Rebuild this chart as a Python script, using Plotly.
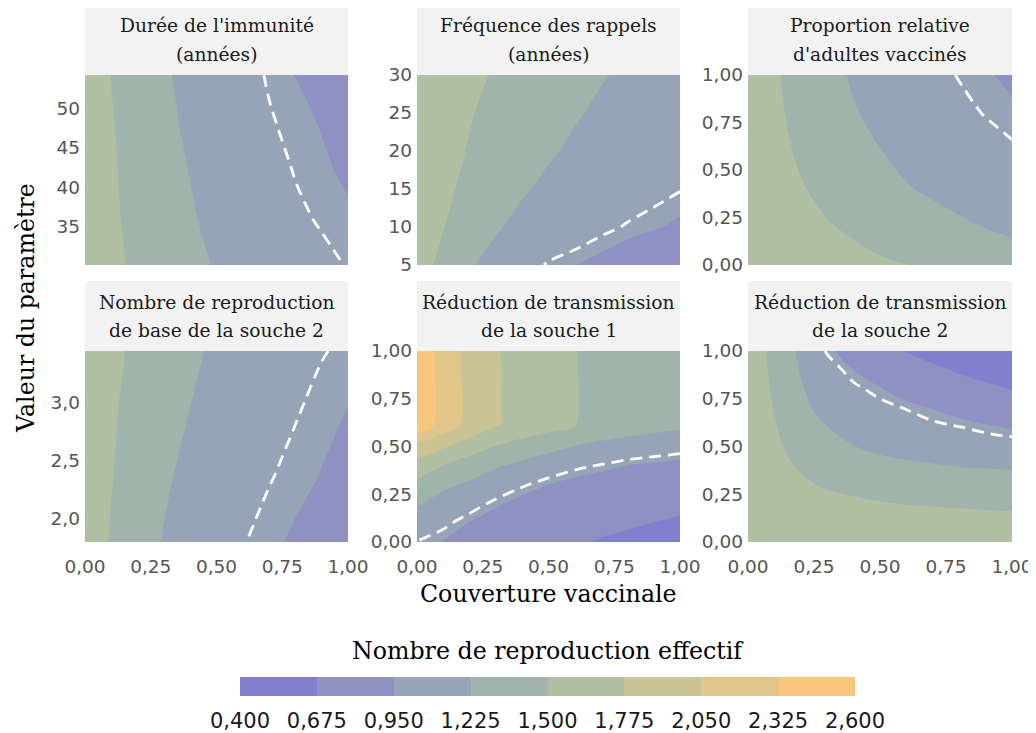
import plotly.graph_objects as go

W, H = 1036, 733

# ---------------- data ----------------
LEVELS = [0.400, 0.675, 0.950, 1.225, 1.500, 1.775, 2.050, 2.325, 2.600]
BAND_COLORS = ["#8080CF", "#8F91C3", "#97A3B7", "#A0B4AC",
               "#B1BFA2", "#C9C396", "#E2C689", "#F9C77B"]
THRESHOLD = 1.0

coverage = [0.0, 0.1, 0.2, 0.3, 0.4, 0.5, 0.6, 0.7, 0.8, 0.9, 1.0]
coverage_fine = [0.0, 0.05, 0.1, 0.15, 0.2, 0.25, 0.3, 0.4, 0.5, 0.6, 0.7, 0.8, 0.9, 1.0]

# Panel 1: Durée de l'immunité (années)
p1_y = [30.2, 36, 42, 48, 54.2]
p1_z = [
    [1.68, 1.56, 1.45, 1.36, 1.28, 1.21, 1.15, 1.10, 1.06, 1.025, 0.995],
    [1.68, 1.54, 1.43, 1.33, 1.245, 1.175, 1.115, 1.065, 1.02, 0.99, 0.965],
    [1.68, 1.53, 1.41, 1.30, 1.22, 1.15, 1.09, 1.04, 0.995, 0.965, 0.935],
    [1.68, 1.515, 1.39, 1.275, 1.19, 1.12, 1.06, 1.01, 0.975, 0.945, 0.91],
    [1.68, 1.495, 1.375, 1.25, 1.17, 1.10, 1.04, 0.99, 0.948, 0.91, 0.88],
]

# Panel 2: Fréquence des rappels (années)
p2_y = [5, 10, 15, 20, 25, 30]
p2_z = [
    [1.68, 1.39, 1.25, 1.14, 1.05, 0.99, 0.955, 0.91, 0.87, 0.835, 0.80],
    [1.68, 1.51, 1.37, 1.25, 1.16, 1.09, 1.0675, 1.028, 0.99, 0.96, 0.93],
    [1.68, 1.55, 1.44, 1.34, 1.25, 1.18, 1.15, 1.105, 1.07, 1.037, 1.005],
    [1.68, 1.58, 1.485, 1.40, 1.325, 1.25, 1.19, 1.14, 1.10, 1.07, 1.045],
    [1.68, 1.60, 1.515, 1.44, 1.37, 1.30, 1.245, 1.19, 1.15, 1.115, 1.085],
    [1.68, 1.62, 1.55, 1.48, 1.41, 1.35, 1.29, 1.24, 1.195, 1.155, 1.12],
]

# Panel 3: Proportion relative d'adultes vaccinés
p3_y = [0.0, 0.2, 0.4, 0.6, 0.8, 1.0]
p3_z = [
    [1.68, 1.65, 1.62, 1.59, 1.56, 1.53, 1.505, 1.47, 1.42, 1.37, 1.32],
    [1.68, 1.62, 1.565, 1.515, 1.47, 1.41, 1.36, 1.31, 1.26, 1.22, 1.19],
    [1.68, 1.59, 1.515, 1.445, 1.38, 1.31, 1.24, 1.19, 1.15, 1.115, 1.09],
    [1.68, 1.565, 1.47, 1.39, 1.30, 1.23, 1.165, 1.115, 1.075, 1.04, 1.015],
    [1.68, 1.545, 1.43, 1.33, 1.24, 1.17, 1.11, 1.06, 1.025, 0.995, 0.965],
    [1.68, 1.53, 1.40, 1.29, 1.20, 1.13, 1.075, 1.03, 0.995, 0.96, 0.93],
]

# Panel 4: Nombre de reproduction de base de la souche 2
p4_y = [1.8, 2.35, 2.9, 3.44]
p4_z = [
    [1.68, 1.48, 1.34, 1.21, 1.12, 1.05, 1.005, 0.97, 0.935, 0.895, 0.86],
    [1.68, 1.51, 1.37, 1.26, 1.16, 1.09, 1.04, 1.005, 0.975, 0.945, 0.905],
    [1.68, 1.53, 1.41, 1.305, 1.22, 1.145, 1.085, 1.04, 1.005, 0.975, 0.946],
    [1.68, 1.55, 1.455, 1.355, 1.265, 1.19, 1.13, 1.08, 1.04, 1.005, 0.985],
]

# Panel 5: Réduction de transmission de la souche 1
p5_y = [0.0, 0.1, 0.2, 0.3, 0.4, 0.5, 0.55, 0.61, 1.0]
p5_z = [
    [0.995, 0.94, 0.87, 0.82, 0.77, 0.72, 0.69, 0.665, 0.64, 0.61, 0.58],
    [1.11, 1.03, 0.945, 0.88, 0.82, 0.77, 0.735, 0.71, 0.695, 0.672, 0.65],
    [1.245, 1.14, 1.055, 0.97, 0.90, 0.845, 0.80, 0.77, 0.755, 0.74, 0.72],
    [1.43, 1.27, 1.19, 1.09, 1.015, 0.95, 0.90, 0.865, 0.84, 0.82, 0.80],
    [1.67, 1.495, 1.36, 1.25, 1.17, 1.09, 1.03, 0.99, 0.948, 0.925, 0.90],
    [1.99, 1.81, 1.63, 1.495, 1.38, 1.30, 1.215, 1.16, 1.12, 1.085, 1.06],
    [2.20, 1.99, 1.79, 1.62, 1.52, 1.43, 1.33, 1.27, 1.22, 1.185, 1.16],
    [2.51, 2.22, 1.96, 1.79, 1.70, 1.60, 1.505, 1.44, 1.37, 1.31, 1.26],
    [2.51, 2.22, 1.96, 1.79, 1.70, 1.60, 1.505, 1.44, 1.37, 1.31, 1.26],
]

# Panel 6: Réduction de transmission de la souche 2
p6_y = [0.0, 0.1, 0.2, 0.3, 0.4, 0.5, 0.6, 0.7, 0.8, 0.9, 1.0]
p6_z = [
    [1.68, 1.68, 1.68, 1.68, 1.68, 1.68, 1.68, 1.68, 1.68, 1.68, 1.68, 1.68, 1.68, 1.68],
    [1.68, 1.675, 1.67, 1.66, 1.65, 1.645, 1.64, 1.625, 1.61, 1.60, 1.59, 1.58, 1.575, 1.57],
    [1.68, 1.66, 1.64, 1.62, 1.60, 1.585, 1.57, 1.545, 1.515, 1.495, 1.485, 1.475, 1.465, 1.46],
    [1.68, 1.645, 1.61, 1.575, 1.54, 1.505, 1.475, 1.43, 1.40, 1.38, 1.365, 1.35, 1.34, 1.33],
    [1.68, 1.63, 1.58, 1.525, 1.475, 1.43, 1.39, 1.33, 1.29, 1.26, 1.24, 1.215, 1.205, 1.195],
    [1.68, 1.62, 1.545, 1.475, 1.41, 1.355, 1.31, 1.23, 1.175, 1.14, 1.11, 1.09, 1.075, 1.06],
    [1.68, 1.61, 1.52, 1.43, 1.35, 1.28, 1.23, 1.15, 1.10, 1.06, 1.03, 1.005, 0.97, 0.94],
    [1.68, 1.60, 1.49, 1.39, 1.30, 1.21, 1.16, 1.09, 1.04, 0.995, 0.945, 0.89, 0.845, 0.80],
    [1.68, 1.58, 1.46, 1.35, 1.245, 1.17, 1.11, 1.03, 0.96, 0.88, 0.81, 0.755, 0.71, 0.672],
    [1.68, 1.56, 1.44, 1.32, 1.21, 1.13, 1.07, 0.948, 0.87, 0.79, 0.715, 0.655, 0.615, 0.585],
    [1.68, 1.55, 1.42, 1.30, 1.18, 1.08, 0.985, 0.86, 0.76, 0.665, 0.60, 0.54, 0.49, 0.45],
]

panel_titles = [
    ["Durée de l'immunité", "(années)"],
    ["Fréquence des rappels", "(années)"],
    ["Proportion relative", "d'adultes vaccinés"],
    ["Nombre de reproduction", "de base de la souche 2"],
    ["Réduction de transmission", "de la souche 1"],
    ["Réduction de transmission", "de la souche 2"],
]
x_ticks = [0, 0.25, 0.5, 0.75, 1.0]
y_ticks = [
    [35, 40, 45, 50],
    [5, 10, 15, 20, 25, 30],
    [0, 0.25, 0.5, 0.75, 1.0],
    [2.0, 2.5, 3.0],
    [0, 0.25, 0.5, 0.75, 1.0],
    [0, 0.25, 0.5, 0.75, 1.0],
]
y_tickformats = ["d", "d", ".2f", ".1f", ".2f", ".2f"]
y_ranges = [[30.2, 54.2], [5, 30], [0, 1], [1.8, 3.44], [0, 1], [0, 1]]

x_title = "Couverture vaccinale"
y_title = "Valeur du paramètre"
legend_title = "Nombre de reproduction effectif"

# ---------------- layout geometry (screen pixels) ----------------
col_px = [(85, 348), (417, 680), (748, 1012)]
row_px = [(75, 265), (351, 542)]          # (top, bottom) of panels
strip_px = [(4, 75), (281, 351)]          # strip boxes
strip_line_px = [(26, 54), (302, 330)]    # text line centres
bar_px = (240, 855, 677, 696)             # colour bar: left, right, top, bottom
PAGE_OFFSET = 8                           # page body margin around the figure

SERIF = "DejaVu Serif"
SANS = "DejaVu Sans"
TITLE_SIZE = 23.7


def px_x(p):
    return (p - PAGE_OFFSET) / W


def px_y(p):
    return 1 - (p - PAGE_OFFSET) / H


n = len(BAND_COLORS)
step_scale = []
for i, c in enumerate(BAND_COLORS):
    step_scale.append([i / n, c])
    step_scale.append([(i + 1) / n, c])

panels = [
    (coverage, p1_y, p1_z, 1.0),
    (coverage, p2_y, p2_z, 1.0),
    (coverage, p3_y, p3_z, 1.0),
    (coverage, p4_y, p4_z, 1.0),
    (coverage, p5_y, p5_z, 0.6),
    (coverage_fine, p6_y, p6_z, 1.0),
]

fig = go.Figure()
layout_axes = {}
shapes = []
annotations = []

for k, (xs, ys, zs, smooth) in enumerate(panels):
    r, c = divmod(k, 3)
    idx = "" if k == 0 else str(k + 1)
    xa, ya = "x" + idx, "y" + idx
    fig.add_trace(go.Contour(
        x=xs, y=ys, z=zs, xaxis=xa, yaxis=ya,
        autocontour=False,
        contours=dict(start=LEVELS[0], end=LEVELS[-1], size=LEVELS[1] - LEVELS[0],
                      coloring="fill", showlines=False),
        colorscale=step_scale, zmin=LEVELS[0], zmax=LEVELS[-1], zauto=False,
        line=dict(width=0, smoothing=smooth),
        showscale=False, hoverinfo="skip",
    ))
    fig.add_trace(go.Contour(
        x=xs, y=ys, z=zs, xaxis=xa, yaxis=ya,
        autocontour=False,
        contours=dict(start=THRESHOLD, end=THRESHOLD, size=1,
                      coloring="none", showlines=True),
        line=dict(color="white", width=2.8, dash="12px,7px", smoothing=smooth),
        showscale=False, hoverinfo="skip",
    ))
    x0, x1 = col_px[c]
    top, bot = row_px[r]
    layout_axes["xaxis" + idx] = dict(
        domain=[px_x(x0), px_x(x1)], range=[0, 1], anchor=ya,
        showgrid=False, zeroline=False, showline=False, ticks="",
        tickvals=x_ticks, tickformat=".2f", showticklabels=(r == 1),
        tickfont=dict(family=SANS, size=18.5, color="#555555"),
        ticklabelstandoff=11, automargin=False,
    )
    layout_axes["yaxis" + idx] = dict(
        domain=[px_y(bot), px_y(top)], range=y_ranges[k], anchor=xa,
        showgrid=False, zeroline=False, showline=False, ticks="",
        tickvals=y_ticks[k], tickformat=y_tickformats[k],
        tickfont=dict(family=SANS, size=18.5, color="#555555"),
        ticklabelstandoff=4, automargin=False,
    )
    st, sb = strip_px[r]
    shapes.append(dict(type="rect", xref="paper", yref="paper",
                       x0=px_x(x0), x1=px_x(x1), y0=px_y(sb), y1=px_y(st),
                       fillcolor="#F2F2F2", line=dict(width=0), layer="below"))
    for line_text, ly in zip(panel_titles[k], strip_line_px[r]):
        annotations.append(dict(
            text=line_text, xref="paper", yref="paper",
            x=px_x((x0 + x1) / 2), y=px_y(ly), xanchor="center", yanchor="middle",
            showarrow=False, font=dict(family=SERIF, size=18.7, color="#1A1A1A"),
        ))

annotations.append(dict(text=x_title, xref="paper", yref="paper",
                        x=px_x(548), y=px_y(594), xanchor="center", yanchor="middle",
                        showarrow=False, font=dict(family=SERIF, size=TITLE_SIZE, color="#000000")))
annotations.append(dict(text=y_title, xref="paper", yref="paper", textangle=-90,
                        x=px_x(26), y=px_y(308), xanchor="center", yanchor="middle",
                        showarrow=False, font=dict(family=SERIF, size=TITLE_SIZE, color="#000000")))
annotations.append(dict(text=legend_title, xref="paper", yref="paper",
                        x=px_x(548), y=px_y(651), xanchor="center", yanchor="middle",
                        showarrow=False, font=dict(family=SERIF, size=TITLE_SIZE, color="#000000")))

# colour key: one heatmap row on its own axis, cells bounded by the levels
band_mid = [(LEVELS[i] + LEVELS[i + 1]) / 2 for i in range(n)]
fig.add_trace(go.Heatmap(
    x=LEVELS, y=[0, 1], z=[band_mid], xaxis="x7", yaxis="y7",
    colorscale=step_scale, zmin=LEVELS[0], zmax=LEVELS[-1], zauto=False,
    showscale=False, hoverinfo="skip",
))
bl, br, bt, bb = bar_px
layout_axes["xaxis7"] = dict(
    domain=[px_x(bl), px_x(br)], range=[LEVELS[0], LEVELS[-1]], anchor="y7",
    showgrid=False, zeroline=False, showline=False, ticks="",
    tickvals=LEVELS, tickformat=".3f",
    tickfont=dict(family=SANS, size=21, color="#1A1A1A"),
    ticklabelstandoff=10, automargin=False,
)
layout_axes["yaxis7"] = dict(
    domain=[px_y(bb), px_y(bt)], range=[0, 1], anchor="x7", visible=False,
)

fig.update_layout(
    width=W, height=H, margin=dict(l=0, r=0, t=0, b=0, pad=0, autoexpand=False),
    paper_bgcolor="white", plot_bgcolor="white",
    separators=", ", showlegend=False,
    shapes=shapes, annotations=annotations,
    **layout_axes,
)

fig.write_html("out.html")
